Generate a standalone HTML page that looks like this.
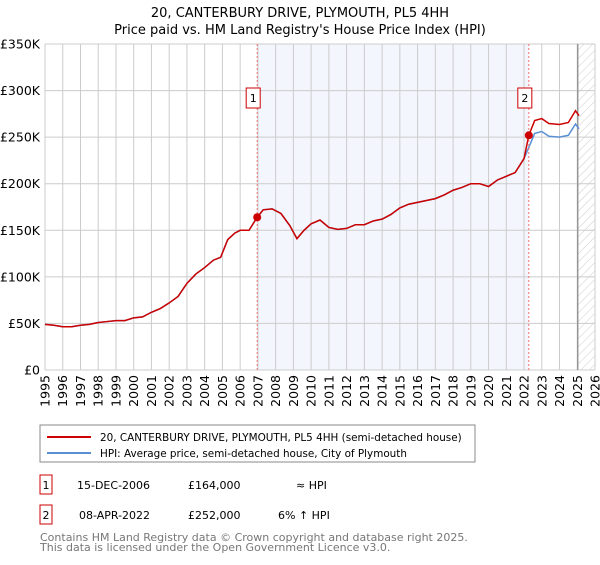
<!DOCTYPE html>
<html><head><meta charset="utf-8"><style>
body{margin:0;background:#fff;font-family:"Liberation Sans","DejaVu Sans",sans-serif;}
svg text{font-family:"DejaVu Sans","Liberation Sans",sans-serif;}
</style></head><body>
<svg id="c" width="600" height="560" xmlns="http://www.w3.org/2000/svg">
<defs><pattern id="hatch" width="6" height="6" patternUnits="userSpaceOnUse" patternTransform="rotate(45)"><line x1="0" y1="0" x2="0" y2="6" stroke="#ccc" stroke-width="1"/></pattern></defs>
<text x="300" y="17" text-anchor="middle" font-size="13" fill="#000">20, CANTERBURY DRIVE, PLYMOUTH, PL5 4HH</text>
<text x="300" y="34" text-anchor="middle" font-size="13" fill="#000">Price paid vs. HM Land Registry's House Price Index (HPI)</text>
<g id="plot"></g>
<rect x="40" y="425" width="435" height="37" fill="#fff" stroke="#888"/>
<line x1="47" y1="437" x2="91" y2="437" stroke="#cc0000" stroke-width="2"/>
<text x="100" y="441" font-size="10.4">20, CANTERBURY DRIVE, PLYMOUTH, PL5 4HH (semi-detached house)</text>
<line x1="47" y1="453" x2="91" y2="453" stroke="#5b8fd4" stroke-width="2"/>
<text x="100" y="457" font-size="10.4">HPI: Average price, semi-detached house, City of Plymouth</text>
<g>
<rect x="40" y="475" width="12" height="19" fill="#fff" stroke="#cc0000"/>
<text x="46" y="489" font-size="11" text-anchor="middle">1</text>
<text x="77" y="489" font-size="11">15-DEC-2006</text>
<text x="188" y="489" font-size="11">£164,000</text>
<text x="296" y="489" font-size="11">≈ HPI</text></g>
<g>
<rect x="40" y="505" width="12" height="19" fill="#fff" stroke="#cc0000"/>
<text x="46" y="519" font-size="11" text-anchor="middle">2</text>
<text x="79" y="519" font-size="11">08-APR-2022</text>
<text x="188" y="519" font-size="11">£252,000</text>
<text x="278" y="519" font-size="11">6% ↑ HPI</text></g>
<text x="40" y="541" font-size="11" fill="#777">Contains HM Land Registry data © Crown copyright and database right 2025.</text>
<text x="40" y="551" font-size="11" fill="#777">This data is licensed under the Open Government Licence v3.0.</text>
</svg>
<script>
const hpiYears=[1995,1995.5,1996,1996.5,1997,1997.5,1998,1998.5,1999,1999.5,2000,2000.5,2001,2001.5,2002,2002.5,2003,2003.5,2004,2004.5,2004.9,2005.3,2005.7,2006,2006.5,2006.96,2007.3,2007.8,2008.3,2008.8,2009.2,2009.6,2010,2010.5,2011,2011.5,2012,2012.5,2013,2013.5,2014,2014.5,2015,2015.5,2016,2016.5,2017,2017.5,2018,2018.5,2019,2019.5,2020,2020.5,2021,2021.5,2022,2022.27,2022.6,2023,2023.4,2024,2024.5,2024.9,2025.1];
const hpiValues=[49,48,46.5,46.5,48,49,51,52,53,53,56,57,62,66,72,79,93,103,110,118,121,140,147,150,150,164,172,173,168,155,141,150,157,161,153,151,152,156,156,160,162,167,174,178,180,182,184,188,193,196,200,200,197,204,208,212,227,239,254,256,251,250,252,264,259];
const saleYears=[2006.96,2022.27];
const salePrices=[164,252];
const saleLabels=["1","2"];
const yTicks=[0,50,100,150,200,250,300,350];
const yTickLabels=["£0","£50K","£100K","£150K","£200K","£250K","£300K","£350K"];
const xTicks=[];for(let y=1995;y<=2026;y++)xTicks.push(y);
const dataEnd=2025.03;
const X0=45,X1=595,Y0=370,Y1=44;
const xs=t=>X0+(t-1995)/(2026-1995)*(X1-X0);
const ys=v=>Y0-v/350*(Y0-Y1);
const NS="http://www.w3.org/2000/svg";
const g=document.getElementById('plot');
function mk(tag,attrs){const e=document.createElementNS(NS,tag);for(const k in attrs)e.setAttribute(k,attrs[k]);g.appendChild(e);return e;}
let e;
e=mk('rect',{x:X0,y:Y1,width:X1-X0,height:Y0-Y1,fill:'#fff'});


e=mk('rect',{x:xs(saleYears[0]),y:Y1,width:xs(saleYears[1])-xs(saleYears[0]),height:Y0-Y1,fill:'#f3f6fd'});


e=mk('rect',{x:xs(dataEnd),y:Y1,width:X1-xs(dataEnd),height:Y0-Y1,fill:'url(#hatch)'});


xTicks.forEach(t=>{
 e=mk('line',{x1:xs(t),x2:xs(t),y1:Y1,y2:Y0,stroke:'#ccc','stroke-width':1});
 
 
 e=mk('text',{x:0,y:0,'font-size':12.5,'text-anchor':'end',transform:`translate(${xs(t)+4.5},375) rotate(-90)`});
 e.textContent=t;
 
 
});
yTicks.forEach((v,i)=>{
 e=mk('line',{x1:X0,x2:X1,y1:ys(v),y2:ys(v),stroke:'#ccc','stroke-width':1});
 
 
 e=mk('text',{x:40,y:ys(v)+4.5,'font-size':12.5,'text-anchor':'end'});
 e.textContent=yTickLabels[i];
 
 
});
e=mk('line',{x1:xs(dataEnd),x2:xs(dataEnd),y1:Y1,y2:Y0,stroke:'#888','stroke-width':1.2});


e=mk('polyline',{points:hpiYears.map((t,i)=>xs(t)+','+ys(hpiValues[i])).join(' '),fill:'none',stroke:'#5b8fd4','stroke-width':1.5});


function hpiAt(t){for(let i=1;i<hpiYears.length;i++){if(t<=hpiYears[i]){const f=(t-hpiYears[i-1])/(hpiYears[i]-hpiYears[i-1]);return hpiValues[i-1]+f*(hpiValues[i]-hpiValues[i-1]);}}return hpiValues[hpiValues.length-1];}
const redPts=hpiYears.map((t,i)=>{let r=1;for(let s=saleYears.length-1;s>=0;s--){if(t>=saleYears[s]){r=salePrices[s]/hpiAt(saleYears[s]);break;}}if(t<saleYears[0])r=salePrices[0]/hpiAt(saleYears[0]);return xs(t)+','+ys(hpiValues[i]*r);});
e=mk('polyline',{points:redPts.join(' '),fill:'none',stroke:'#cc0000','stroke-width':1.5});


saleYears.forEach((t,i)=>{
 e=mk('line',{x1:xs(t),x2:xs(t),y1:Y1,y2:Y0,stroke:'#f07070','stroke-width':1,'stroke-dasharray':'2,2'});
 
 
 e=mk('circle',{cx:xs(t),cy:ys(salePrices[i]),r:4,fill:'#cc0000'});
 
 
 e=mk('rect',{x:xs(t)-11,y:88,width:14,height:20,fill:'#fff',stroke:'#cc0000'});
 
 
 e=mk('text',{x:xs(t)-4,y:102,'font-size':11,'text-anchor':'middle'});
 e.textContent=saleLabels[i];
 
 
});
</script>
</body></html>
